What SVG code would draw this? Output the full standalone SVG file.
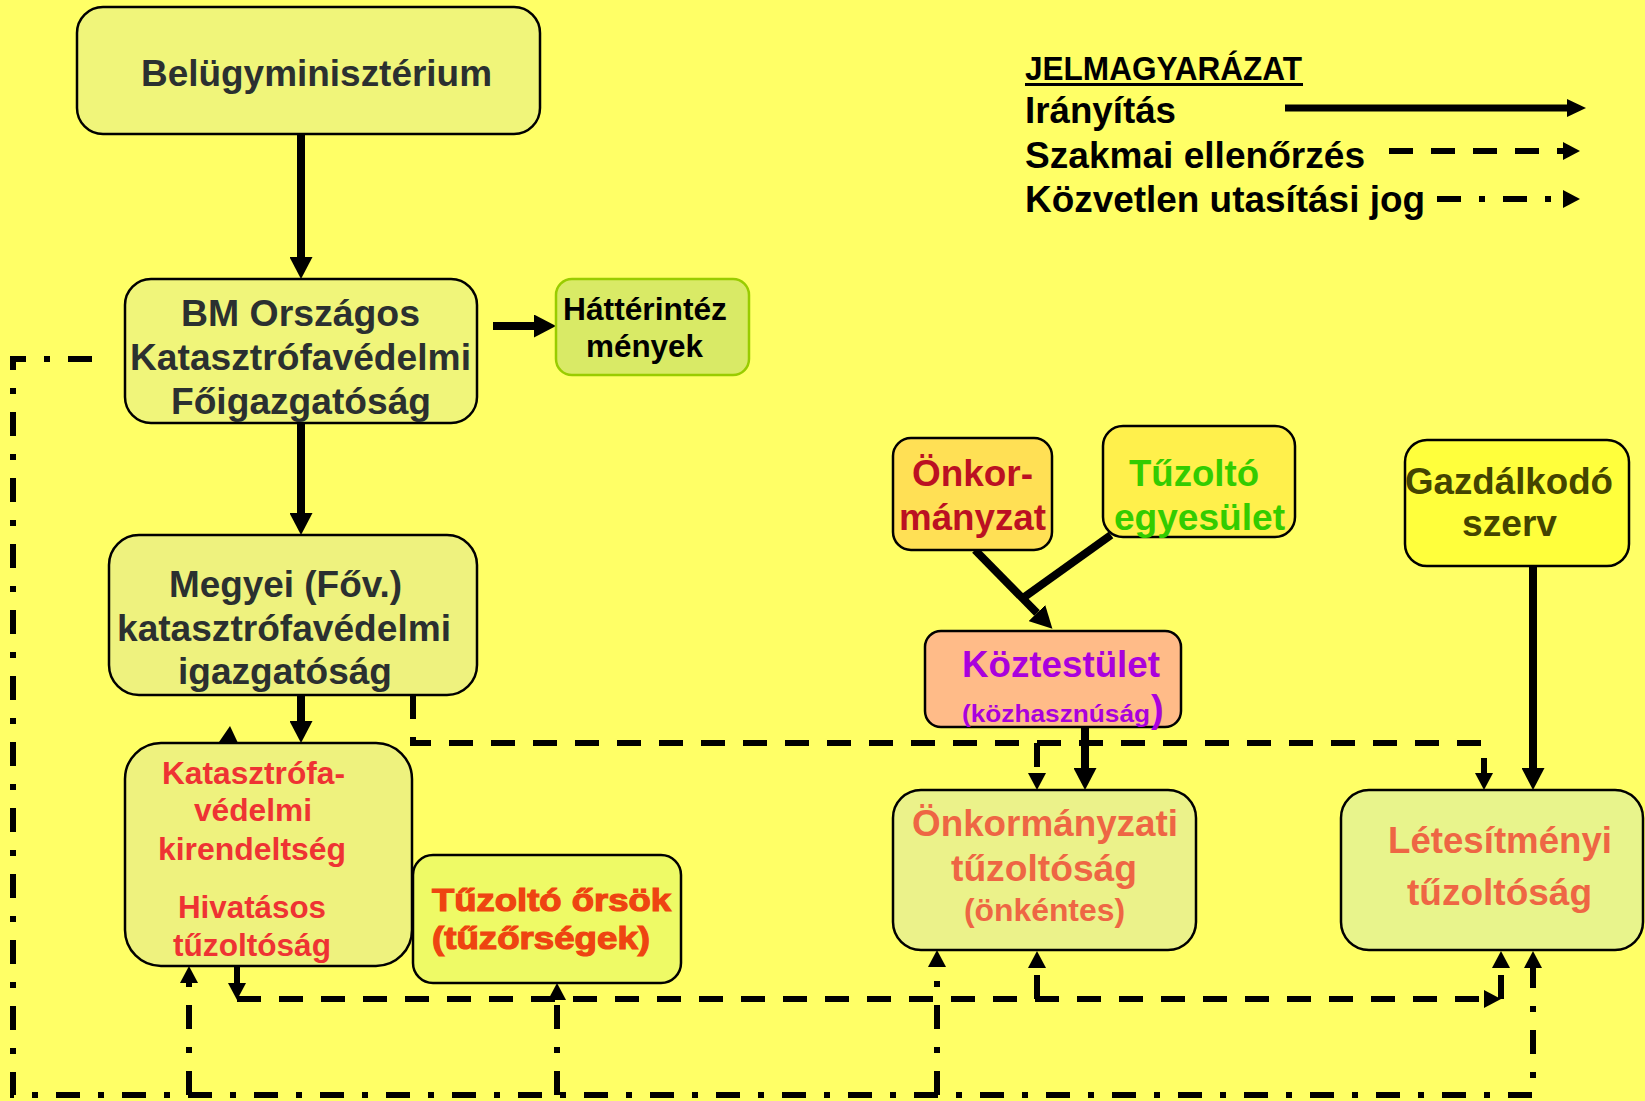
<svg xmlns="http://www.w3.org/2000/svg" width="1645" height="1101" viewBox="0 0 1645 1101">
<style>
.t{font-family:"Liberation Sans",Arial,sans-serif;font-weight:bold}
.box{stroke:#000;stroke-width:2.5}
.s{fill:none;stroke:#000;stroke-width:8}
.d{fill:none;stroke:#000;stroke-width:6;stroke-dasharray:24 18}
.dd{fill:none;stroke:#000;stroke-width:6;stroke-dasharray:24 18 6 18}
.dk{fill:#2b3030}
</style>
<defs>
<marker id="ma" markerUnits="userSpaceOnUse" markerWidth="22" markerHeight="23" refX="0" refY="11.5" orient="auto"><path d="M0,0 L22,11.5 L0,23 Z" fill="#000"/></marker>
<marker id="md" markerUnits="userSpaceOnUse" markerWidth="18" markerHeight="18" refX="0" refY="9" orient="auto"><path d="M0,0 L17,9 L0,18 Z" fill="#000"/></marker>
<marker id="ml" markerUnits="userSpaceOnUse" markerWidth="20" markerHeight="18" refX="0" refY="9" orient="auto"><path d="M0,0 L19,9 L0,18 Z" fill="#000"/></marker>
</defs>
<rect width="1645" height="1101" fill="#ffff66"/>

<g id="legend">
<text class="t" x="1025" y="80" font-size="34" textLength="277" lengthAdjust="spacingAndGlyphs" fill="#000">JELMAGYARÁZAT</text>
<rect x="1025" y="83" width="278" height="3" fill="#000"/>
<text class="t" x="1025" y="123" font-size="36" textLength="151" lengthAdjust="spacingAndGlyphs" fill="#000">Irányítás</text>
<text class="t" x="1025" y="168" font-size="36" textLength="340" lengthAdjust="spacingAndGlyphs" fill="#000">Szakmai ellenőrzés</text>
<text class="t" x="1025" y="212" font-size="36" textLength="400" lengthAdjust="spacingAndGlyphs" fill="#000">Közvetlen utasítási jog</text>
<path d="M1285 108 H1567" fill="none" stroke="#000" stroke-width="7" marker-end="url(#ml)"/>
<path d="M1389 151 H1563" class="d" marker-end="url(#md)"/>
<path d="M1437 199 H1563" class="dd" marker-end="url(#md)"/>
</g>

<g id="connectors">
<path class="s" d="M301 134 V257" marker-end="url(#ma)"/>
<path class="s" d="M493 326 H534" marker-end="url(#ma)"/>
<path class="s" d="M301 423 V513" marker-end="url(#ma)"/>
<path class="s" d="M301 695 V721" marker-end="url(#ma)"/>
<path class="s" d="M975 550 L1037 613" marker-end="url(#ma)"/>
<path class="s" d="M1111 535 L1023 598"/>
<path class="s" d="M1085 727 V768" marker-end="url(#ma)"/>
<path class="s" d="M1533 566 V768" marker-end="url(#ma)"/>

<path class="d" d="M413 695 V743 H1484 V773" marker-end="url(#md)"/>
<path class="d" d="M1037 743 V773" marker-end="url(#md)"/>
<path class="d" d="M237 966 V983" marker-end="url(#md)"/>
<path class="d" d="M237 999 H1484" marker-end="url(#md)"/>
<path class="d" d="M1501 999 V968" marker-end="url(#md)"/>
<path class="d" d="M1037 999 V968" marker-end="url(#md)"/>

<path class="dd" d="M92 359 H13 V1095 H1533 V968" marker-end="url(#md)"/>
<path class="dd" d="M189 1095 V983" marker-end="url(#md)"/>
<path class="dd" d="M557 1095 V1000" marker-end="url(#md)"/>
<path class="dd" d="M937 1095 V967" marker-end="url(#md)"/>

<polygon points="219,742 230,726 238,743" fill="#000"/>
<polygon points="390,907 413,918 390,929" fill="#333"/>
</g>

<g id="belugy">
<rect class="box" x="77" y="7" width="463" height="127" rx="26" fill="#f0f57a"/>
<text class="t dk" x="141" y="86" font-size="37" textLength="351" lengthAdjust="spacingAndGlyphs">Belügyminisztérium</text>
</g>

<g id="bmokf">
<rect class="box" x="125" y="279" width="352" height="144" rx="26" fill="#f0f57a"/>
<text class="t dk" x="181" y="326" font-size="37" textLength="239" lengthAdjust="spacingAndGlyphs">BM Országos</text>
<text class="t dk" x="130" y="370" font-size="37" textLength="341" lengthAdjust="spacingAndGlyphs">Katasztrófavédelmi</text>
<text class="t dk" x="171" y="414" font-size="37" textLength="260" lengthAdjust="spacingAndGlyphs">Főigazgatóság</text>
</g>

<g id="hatter">
<rect x="556" y="279" width="193" height="96" rx="16" fill="#d9ea66" stroke="#99cc00" stroke-width="2.5"/>
<text class="t" x="563" y="320" font-size="31" textLength="164" lengthAdjust="spacingAndGlyphs" fill="#000">Háttérintéz</text>
<text class="t" x="586" y="357" font-size="31" textLength="117" lengthAdjust="spacingAndGlyphs" fill="#000">mények</text>
</g>

<g id="megyei">
<rect class="box" x="109" y="535" width="368" height="160" rx="30" fill="#eef27e"/>
<text class="t dk" x="169" y="597" font-size="37" textLength="233" lengthAdjust="spacingAndGlyphs">Megyei (Főv.)</text>
<text class="t dk" x="117" y="641" font-size="37" textLength="334" lengthAdjust="spacingAndGlyphs">katasztrófavédelmi</text>
<text class="t dk" x="178" y="684" font-size="37" textLength="214" lengthAdjust="spacingAndGlyphs">igazgatóság</text>
</g>

<g id="kirendeltseg">
<rect class="box" x="125" y="743" width="287" height="223" rx="36" fill="#eef27e"/>
<g class="t" fill="#ee3333" font-size="31">
<text x="162" y="784" textLength="183" lengthAdjust="spacingAndGlyphs">Katasztrófa-</text>
<text x="194" y="821" textLength="118" lengthAdjust="spacingAndGlyphs">védelmi</text>
<text x="158" y="860" textLength="188" lengthAdjust="spacingAndGlyphs">kirendeltség</text>
<text x="178" y="918" textLength="148" lengthAdjust="spacingAndGlyphs">Hivatásos</text>
<text x="173" y="956" textLength="158" lengthAdjust="spacingAndGlyphs">tűzoltóság</text>
</g>
</g>

<g id="orsok">
<rect class="box" x="413" y="855" width="268" height="128" rx="20" fill="#eefa66"/>
<g class="t" fill="#ee4411" stroke="#ee4411" stroke-width="1.2" font-size="32">
<text x="432" y="911" textLength="239" lengthAdjust="spacingAndGlyphs">Tűzoltó őrsök</text>
<text x="432" y="949" textLength="218" lengthAdjust="spacingAndGlyphs">(tűzőrségek)</text>
</g>
</g>

<g id="onkormanyzat">
<rect class="box" x="893" y="438" width="159" height="112" rx="18" fill="#ffe055"/>
<text class="t" x="912" y="486" font-size="37" textLength="121" lengthAdjust="spacingAndGlyphs" fill="#bb1122">Önkor-</text>
<text class="t" x="899" y="530" font-size="37" textLength="147" lengthAdjust="spacingAndGlyphs" fill="#bb1122">mányzat</text>
</g>

<g id="egyesulet">
<rect class="box" x="1103" y="426" width="192" height="111" rx="20" fill="#fff04c"/>
<text class="t" x="1129" y="486" font-size="37" textLength="130" lengthAdjust="spacingAndGlyphs" fill="#33cc00">Tűzoltó</text>
<text class="t" x="1114" y="530" font-size="37" textLength="171" lengthAdjust="spacingAndGlyphs" fill="#33cc00">egyesület</text>
</g>

<g id="gazdalkodo">
<rect class="box" x="1405" y="440" width="224" height="126" rx="22" fill="#ffff3c"/>
<text class="t" x="1405" y="494" font-size="37" textLength="208" lengthAdjust="spacingAndGlyphs" fill="#444400">Gazdálkodó</text>
<text class="t" x="1462" y="536" font-size="37" textLength="95" lengthAdjust="spacingAndGlyphs" fill="#444400">szerv</text>
</g>

<g id="koztestulet">
<rect class="box" x="925" y="631" width="256" height="96" rx="16" fill="#ffbb88"/>
<text class="t" x="962" y="677" font-size="37" textLength="198" lengthAdjust="spacingAndGlyphs" fill="#aa00dd">Köztestület</text>
<text class="t" x="962" y="722" font-size="24" textLength="188" lengthAdjust="spacingAndGlyphs" fill="#aa00dd">(közhasznúság</text>
<text class="t" x="1151" y="722" font-size="38" fill="#aa00dd">)</text>
</g>

<g id="onkorm-tuzoltosag">
<rect class="box" x="893" y="790" width="303" height="160" rx="28" fill="#ebf28a"/>
<text class="t" x="912" y="836" font-size="37" textLength="266" lengthAdjust="spacingAndGlyphs" fill="#ee6644">Önkormányzati</text>
<text class="t" x="951" y="881" font-size="37" textLength="186" lengthAdjust="spacingAndGlyphs" fill="#ee6644">tűzoltóság</text>
<text class="t" x="964" y="921" font-size="31" textLength="161" lengthAdjust="spacingAndGlyphs" fill="#ee6644">(önkéntes)</text>
</g>

<g id="letesitmenyi">
<rect class="box" x="1341" y="790" width="302" height="160" rx="28" fill="#e8f48c"/>
<text class="t" x="1388" y="853" font-size="37" textLength="224" lengthAdjust="spacingAndGlyphs" fill="#ee6644">Létesítményi</text>
<text class="t" x="1407" y="905" font-size="37" textLength="185" lengthAdjust="spacingAndGlyphs" fill="#ee6644">tűzoltóság</text>
</g>
</svg>
